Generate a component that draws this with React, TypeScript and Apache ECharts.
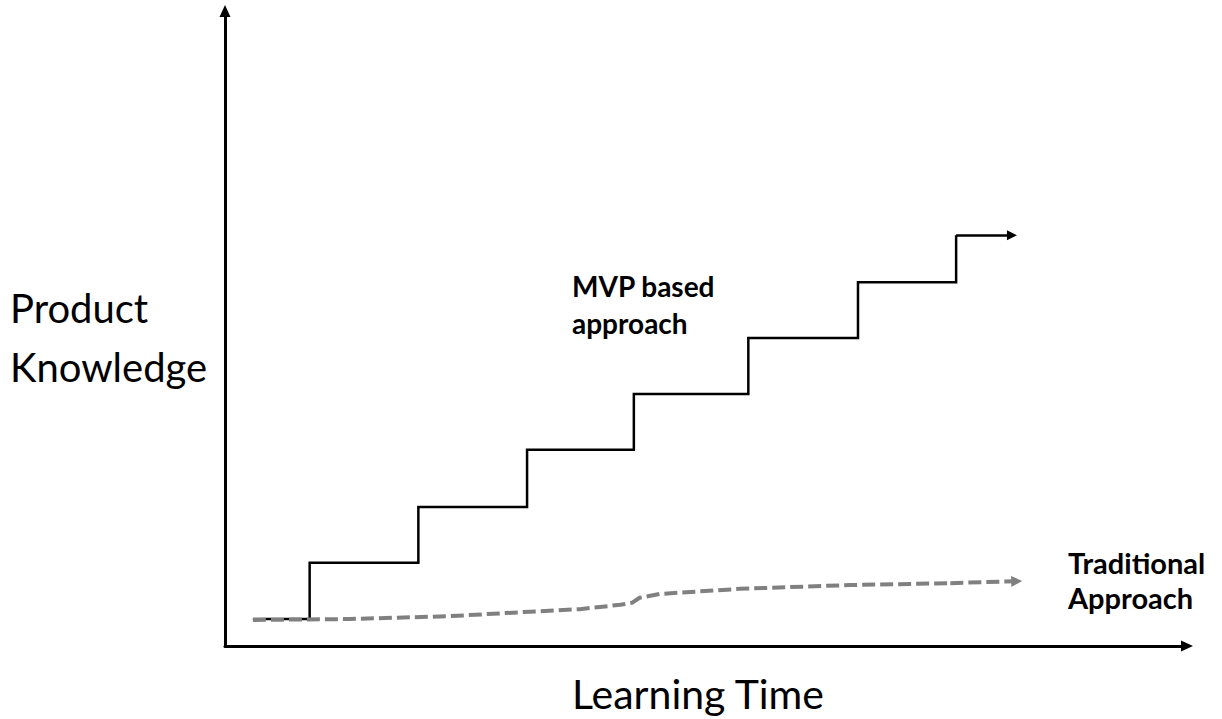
import React, { useEffect, useRef } from "react";
import * as echarts from "echarts";

// MVP based approach: staircase (x positions of the risers, and the knowledge level of each tread)
const mvpStart = 2.9;
const mvpStepX = [8.8, 20.1, 31.4, 42.5, 54.4, 65.8, 76.0];
const mvpLevels = [4.25, 13.1, 21.9, 30.9, 39.7, 48.5, 57.3, 64.7];
const mvpEnd = 81.8;

// Traditional approach: slowly rising dashed curve
const tradX = [2.9, 13.0, 23.4, 31.7, 36.9, 41.1, 42.3, 43.1, 45.2, 53.5, 65.0, 75.4, 82.3];
const tradY = [4.1, 4.25, 4.7, 5.4, 5.8, 6.5, 6.8, 7.6, 8.2, 9.0, 9.6, 9.9, 10.2];

const xLabel = "Learning Time";
const yLabel = ["Product", "Knowledge"];
const mvpLabel = ["MVP based", "approach"];
const tradLabel = ["Traditional", "Approach"];

function buildMvp(): number[][] {
  const pts: number[][] = [[mvpStart, mvpLevels[0]]];
  mvpStepX.forEach((x, i) => {
    pts.push([x, mvpLevels[i]]);
    pts.push([x, mvpLevels[i + 1]]);
  });
  return pts;
}

export default function App() {
  const ref = useRef<HTMLDivElement>(null);
  useEffect(() => {
    if (!ref.current) return;
    const chart = echarts.init(ref.current, null, { renderer: "svg" });
    const font = "Lato, 'Open Sans', sans-serif";
    const mvpPts = buildMvp();
    const lastMvp = mvpPts[mvpPts.length - 1];
    const tradPts = tradX.map((x, i) => [x, tradY[i]]);
    const n = tradPts.length;
    const axisLine = {
      show: true,
      lineStyle: { color: "#000", width: 3 },
      symbol: ["none", "triangle"],
      symbolSize: [11, 12],
    };
    const hidden = {
      axisTick: { show: false },
      axisLabel: { show: false },
      splitLine: { show: false },
    };
    const grey = { color: "#808080", width: 4, type: [13, 5], opacity: 1 };
    const black = { color: "#000000", width: 2.5, opacity: 1 };
    chart.setOption({
      animation: false,
      backgroundColor: "#ffffff",
      grid: { left: 225, right: 35, top: 11, bottom: 73 },
      xAxis: { type: "value", min: 0, max: 100, axisLine, ...hidden },
      yAxis: { type: "value", min: 0, max: 100, axisLine, ...hidden },
      series: [
        {
          type: "lines",
          coordinateSystem: "cartesian2d",
          polyline: true,
          lineStyle: grey,
          data: [{ coords: tradPts.slice(0, n - 1) }],
          z: 3,
        },
        {
          type: "lines",
          coordinateSystem: "cartesian2d",
          symbol: ["none", "triangle"],
          symbolSize: [11, 11],
          lineStyle: grey,
          data: [{ coords: [tradPts[n - 2], tradPts[n - 1]] }],
          z: 3,
        },
        {
          type: "lines",
          coordinateSystem: "cartesian2d",
          polyline: true,
          lineStyle: black,
          data: [{ coords: mvpPts }],
          z: 2,
        },
        {
          type: "lines",
          coordinateSystem: "cartesian2d",
          symbol: ["none", "triangle"],
          symbolSize: [9, 10],
          lineStyle: black,
          data: [{ coords: [lastMvp, [mvpEnd, lastMvp[1]]] }],
          z: 2,
        },
      ],
      graphic: [
        {
          type: "text",
          left: 10,
          top: 278,
          style: {
            text: yLabel.join("\n"),
            font: `40px ${font}`,
            lineHeight: 59,
            fill: "#000",
            align: "left",
          },
        },
        {
          type: "text",
          x: 698,
          y: 693,
          style: {
            text: xLabel,
            font: `41px ${font}`,
            fill: "#000",
            align: "center",
            verticalAlign: "middle",
          },
        },
        {
          type: "text",
          x: 572,
          y: 267,
          style: {
            text: mvpLabel.join("\n"),
            font: `bold 28px ${font}`,
            lineHeight: 37,
            fill: "#000",
            align: "left",
            verticalAlign: "top",
          },
        },
        {
          type: "text",
          x: 1068,
          y: 545,
          style: {
            text: tradLabel.join("\n"),
            font: `bold 29px ${font}`,
            lineHeight: 35,
            fill: "#000",
            align: "left",
            verticalAlign: "top",
          },
        },
      ],
    });
    return () => chart.dispose();
  }, []);
  return <div ref={ref} style={{ width: 1222, height: 719, position: "absolute", left: 0, top: 0 }} />;
}
